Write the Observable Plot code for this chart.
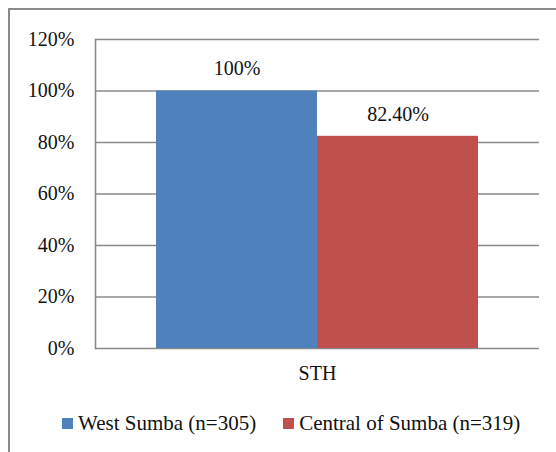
<!DOCTYPE html>
<html>
<head>
<meta charset="utf-8">
<script src="https://cdn.jsdelivr.net/npm/d3@7"></script>
<script src="https://cdn.jsdelivr.net/npm/@observablehq/plot@0.6"></script>
<style>
  html, body { margin: 0; padding: 0; background: #fff; }
  body { width: 556px; height: 452px; position: relative; overflow: hidden; font-family: "Liberation Serif", Tinos, "Times New Roman", Times, "Nimbus Roman", "DejaVu Serif", serif; }
  #frame { position: absolute; left: 8px; top: 8px; width: 600px; height: 600px; border: 2px solid #8a8a8a; box-sizing: border-box; }
  #chart { position: absolute; left: 0; top: 0; }
  #chart svg text { font-family: "Liberation Serif", Tinos, "Times New Roman", Times, "Nimbus Roman", "DejaVu Serif", serif; }
  #legend { position: absolute; left: 62px; top: 411px; display: flex; align-items: center; font-size: 21px; color: #111; white-space: nowrap; }
  #legend .item { display: flex; align-items: center; margin-right: 27px; }
  #legend .sw { width: 11px; height: 11px; margin-right: 5px; }
</style>
</head>
<body>
<div id="frame"></div>
<div id="chart"></div>
<div id="legend"></div>
<script>
const categories = ["STH"];
const series = ["West Sumba (n=305)", "Central of Sumba (n=319)"];
const values = [1.00, 0.824];
const valueLabels = ["100%", "82.40%"];
const colors = ["#4F81BD", "#C0504D"];
const yTicks = [0, 0.2, 0.4, 0.6, 0.8, 1.0, 1.2];

const data = series.map((s, i) => ({category: categories[0], series: s, value: values[i], label: valueLabels[i]}));

const chart = Plot.plot({
  width: 556,
  height: 400,
  marginLeft: 95,
  marginRight: 17,
  marginTop: 39,
  marginBottom: 52,
  style: {fontSize: "20px", color: "#111", background: "transparent"},
  fx: {domain: categories, padding: 0, label: null},
  x: {domain: series, paddingInner: 0, paddingOuter: 0.3704, axis: null},
  y: {domain: [0, 1.2], axis: null},
  color: {domain: series, range: colors},
  marks: [
    Plot.ruleY(yTicks, {y: d => d, stroke: "#8a8a8a", strokeWidth: 1.6}),
    Plot.barY(data, {fx: "category", x: "series", y: "value", fill: "series"}),
    Plot.frame({anchor: "left", stroke: "#8a8a8a", strokeWidth: 1.6}),
    Plot.axisY({ticks: yTicks, tickFormat: d => Math.round(d * 100) + "%", tickSize: 0, tickPadding: 21, fontSize: 20, label: null}),
    Plot.axisFx({anchor: "bottom", tickSize: 0, tickPadding: 17, fontSize: 20, label: null}),
    Plot.text(data, {fx: "category", x: "series", y: "value", text: "label", dy: -22, fontSize: 20, fill: "#111"})
  ]
});
document.getElementById("chart").appendChild(chart);

const legend = document.getElementById("legend");
series.forEach((s, i) => {
  const item = document.createElement("div");
  item.className = "item";
  const sw = document.createElement("span");
  sw.className = "sw";
  sw.style.background = colors[i];
  const t = document.createElement("span");
  t.textContent = s;
  item.appendChild(sw);
  item.appendChild(t);
  legend.appendChild(item);
});
</script>
</body>
</html>
